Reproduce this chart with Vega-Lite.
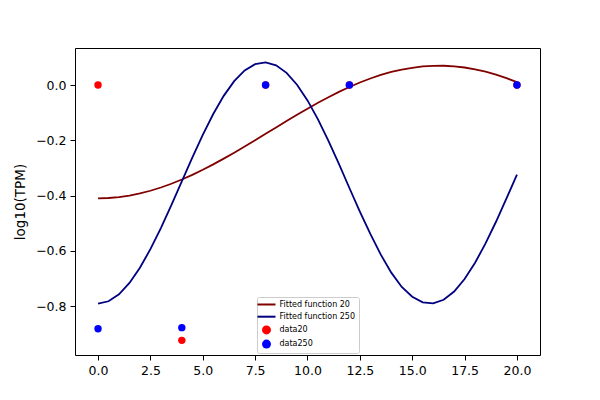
{
  "$schema": "https://vega.github.io/schema/vega-lite/v6.json",
  "width": 465,
  "height": 307,
  "autosize": "none",
  "padding": {"left": 75, "top": 48, "right": 60, "bottom": 45},
  "background": "white",
  "datasets": {
    "fitted": [
      {"t": 0, "v": -0.41, "series": "Fitted function 20"},
      {"t": 0.5, "v": -0.4089, "series": "Fitted function 20"},
      {"t": 1, "v": -0.4055, "series": "Fitted function 20"},
      {"t": 1.5, "v": -0.4, "series": "Fitted function 20"},
      {"t": 2, "v": -0.3923, "series": "Fitted function 20"},
      {"t": 2.5, "v": -0.3826, "series": "Fitted function 20"},
      {"t": 3, "v": -0.3709, "series": "Fitted function 20"},
      {"t": 3.5, "v": -0.3573, "series": "Fitted function 20"},
      {"t": 4, "v": -0.342, "series": "Fitted function 20"},
      {"t": 4.5, "v": -0.3251, "series": "Fitted function 20"},
      {"t": 5, "v": -0.3067, "series": "Fitted function 20"},
      {"t": 5.5, "v": -0.2871, "series": "Fitted function 20"},
      {"t": 6, "v": -0.2664, "series": "Fitted function 20"},
      {"t": 6.5, "v": -0.2448, "series": "Fitted function 20"},
      {"t": 7, "v": -0.2224, "series": "Fitted function 20"},
      {"t": 7.5, "v": -0.1996, "series": "Fitted function 20"},
      {"t": 8, "v": -0.1765, "series": "Fitted function 20"},
      {"t": 8.5, "v": -0.1534, "series": "Fitted function 20"},
      {"t": 9, "v": -0.1304, "series": "Fitted function 20"},
      {"t": 9.5, "v": -0.1077, "series": "Fitted function 20"},
      {"t": 10, "v": -0.0857, "series": "Fitted function 20"},
      {"t": 10.5, "v": -0.0644, "series": "Fitted function 20"},
      {"t": 11, "v": -0.0442, "series": "Fitted function 20"},
      {"t": 11.5, "v": -0.0249, "series": "Fitted function 20"},
      {"t": 12, "v": -0.0073, "series": "Fitted function 20"},
      {"t": 12.5, "v": 0.0092, "series": "Fitted function 20"},
      {"t": 13, "v": 0.0237, "series": "Fitted function 20"},
      {"t": 13.5, "v": 0.0365, "series": "Fitted function 20"},
      {"t": 14, "v": 0.0472, "series": "Fitted function 20"},
      {"t": 14.5, "v": 0.0558, "series": "Fitted function 20"},
      {"t": 15, "v": 0.0622, "series": "Fitted function 20"},
      {"t": 15.5, "v": 0.0673, "series": "Fitted function 20"},
      {"t": 16, "v": 0.0696, "series": "Fitted function 20"},
      {"t": 16.5, "v": 0.0698, "series": "Fitted function 20"},
      {"t": 17, "v": 0.0677, "series": "Fitted function 20"},
      {"t": 17.5, "v": 0.0634, "series": "Fitted function 20"},
      {"t": 18, "v": 0.0569, "series": "Fitted function 20"},
      {"t": 18.5, "v": 0.0483, "series": "Fitted function 20"},
      {"t": 19, "v": 0.0377, "series": "Fitted function 20"},
      {"t": 19.5, "v": 0.0251, "series": "Fitted function 20"},
      {"t": 20, "v": 0.0108, "series": "Fitted function 20"},
      {"t": 0, "v": -0.791, "series": "Fitted function 250"},
      {"t": 0.5, "v": -0.7825, "series": "Fitted function 250"},
      {"t": 1, "v": -0.7572, "series": "Fitted function 250"},
      {"t": 1.5, "v": -0.7162, "series": "Fitted function 250"},
      {"t": 2, "v": -0.661, "series": "Fitted function 250"},
      {"t": 2.5, "v": -0.594, "series": "Fitted function 250"},
      {"t": 3, "v": -0.5178, "series": "Fitted function 250"},
      {"t": 3.5, "v": -0.4345, "series": "Fitted function 250"},
      {"t": 4, "v": -0.3484, "series": "Fitted function 250"},
      {"t": 4.5, "v": -0.2627, "series": "Fitted function 250"},
      {"t": 5, "v": -0.1802, "series": "Fitted function 250"},
      {"t": 5.5, "v": -0.1049, "series": "Fitted function 250"},
      {"t": 6, "v": -0.0392, "series": "Fitted function 250"},
      {"t": 6.5, "v": 0.0141, "series": "Fitted function 250"},
      {"t": 7, "v": 0.0527, "series": "Fitted function 250"},
      {"t": 7.5, "v": 0.0756, "series": "Fitted function 250"},
      {"t": 8, "v": 0.0818, "series": "Fitted function 250"},
      {"t": 8.5, "v": 0.0712, "series": "Fitted function 250"},
      {"t": 9, "v": 0.044, "series": "Fitted function 250"},
      {"t": 9.5, "v": 0.0012, "series": "Fitted function 250"},
      {"t": 10, "v": -0.0557, "series": "Fitted function 250"},
      {"t": 10.5, "v": -0.1242, "series": "Fitted function 250"},
      {"t": 11, "v": -0.2019, "series": "Fitted function 250"},
      {"t": 11.5, "v": -0.2856, "series": "Fitted function 250"},
      {"t": 12, "v": -0.3727, "series": "Fitted function 250"},
      {"t": 12.5, "v": -0.4578, "series": "Fitted function 250"},
      {"t": 13, "v": -0.5386, "series": "Fitted function 250"},
      {"t": 13.5, "v": -0.614, "series": "Fitted function 250"},
      {"t": 14, "v": -0.679, "series": "Fitted function 250"},
      {"t": 14.5, "v": -0.7308, "series": "Fitted function 250"},
      {"t": 15, "v": -0.7659, "series": "Fitted function 250"},
      {"t": 15.5, "v": -0.7866, "series": "Fitted function 250"},
      {"t": 16, "v": -0.7903, "series": "Fitted function 250"},
      {"t": 16.5, "v": -0.777, "series": "Fitted function 250"},
      {"t": 17, "v": -0.7472, "series": "Fitted function 250"},
      {"t": 17.5, "v": -0.702, "series": "Fitted function 250"},
      {"t": 18, "v": -0.6433, "series": "Fitted function 250"},
      {"t": 18.5, "v": -0.5733, "series": "Fitted function 250"},
      {"t": 19, "v": -0.4948, "series": "Fitted function 250"},
      {"t": 19.5, "v": -0.4106, "series": "Fitted function 250"},
      {"t": 20, "v": -0.3242, "series": "Fitted function 250"}
    ],
    "measured": [
      {"t": 0, "v": 0, "series": "data20"},
      {"t": 4, "v": -0.924, "series": "data20"},
      {"t": 8, "v": 0, "series": "data20"},
      {"t": 12, "v": 0, "series": "data20"},
      {"t": 20, "v": 0, "series": "data20"},
      {"t": 0, "v": -0.882, "series": "data250"},
      {"t": 4, "v": -0.878, "series": "data250"},
      {"t": 8, "v": 0, "series": "data250"},
      {"t": 12, "v": 0, "series": "data250"},
      {"t": 20, "v": 0, "series": "data250"}
    ]
  },
  "encoding": {
    "x": {
      "field": "t",
      "type": "quantitative",
      "scale": {"domain": [-1.1, 21.1], "nice": false, "zero": false},
      "axis": {"title": null, "values": [0, 2.5, 5, 7.5, 10, 12.5, 15, 17.5, 20], "format": ".1f"}
    },
    "y": {
      "field": "v",
      "type": "quantitative",
      "scale": {"domain": [-0.977, 0.134], "nice": false, "zero": false},
      "axis": {"title": "log10(TPM)", "values": [-0.8, -0.6, -0.4, -0.2, 0], "format": ".1f", "titlePadding": 8}
    },
    "color": {
      "field": "series",
      "type": "nominal",
      "scale": {
        "domain": ["Fitted function 20", "Fitted function 250", "data20", "data250"],
        "range": ["#800000", "#000080", "#ff0000", "#0000ff"]
      },
      "legend": {
        "title": null,
        "orient": "none",
        "legendX": 182,
        "legendY": 249,
        "padding": 3.5,
        "fillColor": "white",
        "strokeColor": "#cccccc",
        "cornerRadius": 2,
        "labelFont": "DejaVu Sans",
        "labelFontSize": 8,
        "labelColor": "black",
        "symbolSize": 81,
        "symbolOffset": 2,
        "labelOffset": 9,
        "rowPadding": 4.2,
        "encode": {
          "symbols": {
            "update": {
              "fill": {"scale": "color", "field": "value"},
              "stroke": {"scale": "color", "field": "value"},
              "strokeWidth": {"signal": "indexof(['data20', 'data250'], datum.value) >= 0 ? 0 : 2"},
              "opacity": {"value": 1}
            }
          }
        }
      }
    }
  },
  "layer": [
    {
      "data": {"name": "fitted"},
      "mark": {"type": "line", "strokeWidth": 1.8, "clip": true}
    },
    {
      "data": {"name": "measured"},
      "mark": {"type": "point", "filled": true, "opacity": 1, "size": 55},
      "encoding": {
        "shape": {
          "field": "series",
          "type": "nominal",
          "scale": {
            "domain": ["Fitted function 20", "Fitted function 250", "data20", "data250"],
            "range": ["M-2,0H2", "M-2,0H2", "circle", "circle"]
          }
        }
      }
    }
  ],
  "config": {
    "view": {"stroke": "black", "strokeWidth": 1},
    "axis": {
      "domain": false,
      "grid": false,
      "ticks": true,
      "tickColor": "black",
      "tickSize": 5,
      "labelPadding": 4,
      "labelFont": "DejaVu Sans",
      "labelFontSize": 12.5,
      "labelColor": "black",
      "titleFont": "DejaVu Sans",
      "titleFontSize": 13.5,
      "titleFontWeight": "normal",
      "titleColor": "black"
    }
  }
}
